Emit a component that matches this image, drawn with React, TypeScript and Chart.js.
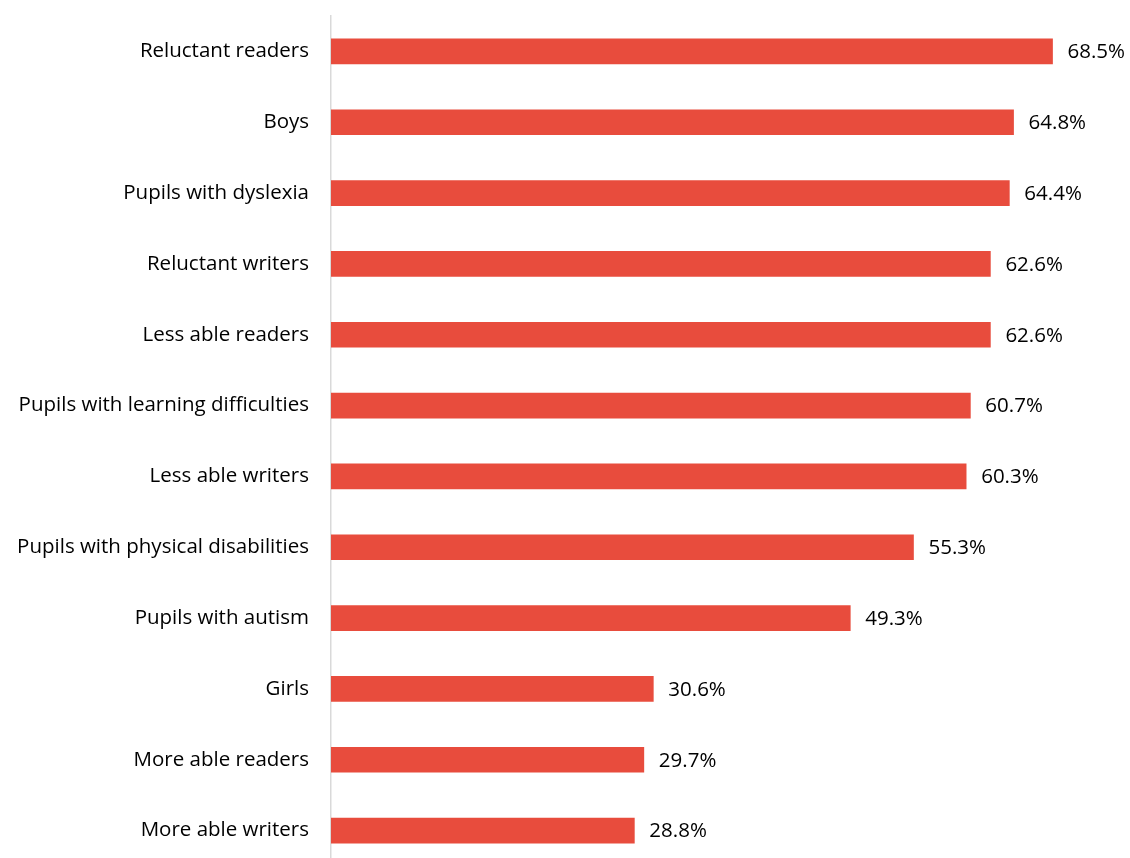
import React, { useEffect, useRef } from "react";
import { Chart, registerables } from "chart.js";

Chart.register(...registerables);

const categories = [
  "Reluctant readers",
  "Boys",
  "Pupils with dyslexia",
  "Reluctant writers",
  "Less able readers",
  "Pupils with learning difficulties",
  "Less able writers",
  "Pupils with physical disabilities",
  "Pupils with autism",
  "Girls",
  "More able readers",
  "More able writers",
];

const values = [68.5, 64.8, 64.4, 62.6, 62.6, 60.7, 60.3, 55.3, 49.3, 30.6, 29.7, 28.8];

const FONT = "'Open Sans', 'Liberation Sans', sans-serif";

const valueLabels = {
  id: "valueLabels",
  afterDatasetsDraw(chart: any) {
    const ctx = chart.ctx;
    const meta = chart.getDatasetMeta(0);
    ctx.save();
    ctx.font = `20.5px ${FONT}`;
    ctx.fillStyle = "#000000";
    ctx.textAlign = "left";
    ctx.textBaseline = "middle";
    meta.data.forEach((bar: any, i: number) => {
      ctx.fillText(values[i].toFixed(1) + "%", bar.x + 15, bar.y + 1);
    });
    ctx.restore();
  },
};

export default function App() {
  const ref = useRef<HTMLCanvasElement>(null);
  useEffect(() => {
    document.body.style.margin = "0";
    if (!ref.current) return;
    const chart = new Chart(ref.current, {
      type: "bar",
      data: {
        labels: categories,
        datasets: [
          {
            data: values,
            backgroundColor: "#E84C3D",
            borderWidth: 0,
            barThickness: 25,
          },
        ],
      },
      options: {
        indexAxis: "y",
        animation: false,
        responsive: false,
        layout: { padding: { top: 16, bottom: 0, left: 0, right: 9 } },
        plugins: { legend: { display: false }, tooltip: { enabled: false } },
        scales: {
          x: {
            min: 0,
            max: 75,
            display: false,
            grid: { display: false },
          },
          y: {
            afterFit(axis: any) {
              axis.width = 331;
              axis.paddingTop = 0;
              axis.paddingBottom = 0;
            },
            grid: { display: false, drawTicks: false },
            border: { display: true, color: "#D9D9D9", width: 1.5 },
            ticks: {
              color: "#000000",
              padding: 22,
              font: { family: FONT, size: 20.5 },
            },
          },
        },
      },
      plugins: [valueLabels],
    });
    return () => chart.destroy();
  }, []);
  return (
    <div style={{ width: 1130, height: 858, overflow: "hidden" }}>
      <canvas ref={ref} width={1130} height={866} style={{ display: "block" }} />
    </div>
  );
}
